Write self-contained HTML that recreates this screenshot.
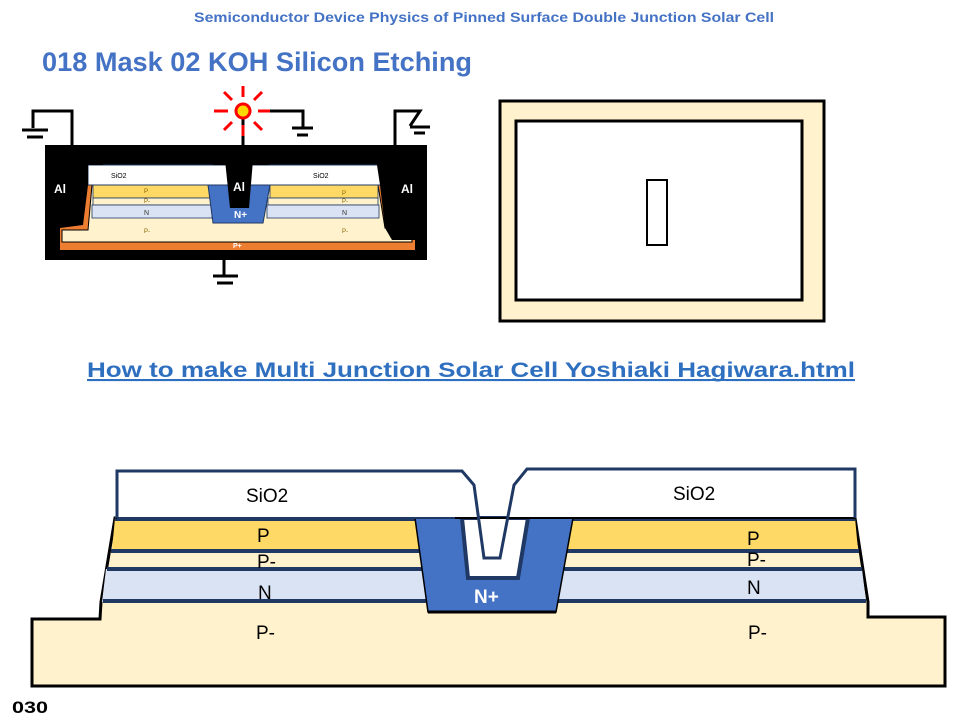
<!DOCTYPE html>
<html><head><meta charset="utf-8"><style>html,body{margin:0;padding:0;background:#fff}svg{display:block}</style></head>
<body>
<svg width="960" height="720" viewBox="0 0 960 720" xmlns="http://www.w3.org/2000/svg" font-family="Liberation Sans, sans-serif">
<text x="194" y="22" font-size="14" font-weight="bold" fill="#4472c4" textLength="580" lengthAdjust="spacingAndGlyphs">Semiconductor Device Physics of Pinned Surface Double Junction Solar Cell</text>
<text x="42" y="71" font-size="27" font-weight="bold" fill="#4472c4" textLength="430" lengthAdjust="spacingAndGlyphs">018 Mask 02 KOH Silicon Etching</text>
<text x="87" y="377" font-size="21" font-weight="bold" fill="#2e6fc0" textLength="768" lengthAdjust="spacingAndGlyphs" text-decoration="underline">How to make Multi Junction Solar Cell Yoshiaki Hagiwara.html</text>
<line x1="87" y1="380" x2="855" y2="380" stroke="#2e6fc0" stroke-width="2"/>
<text x="12" y="713" font-size="17" font-weight="bold" fill="#000" textLength="36" lengthAdjust="spacingAndGlyphs">030</text>

<!-- Top-left small diagram -->
<g>
<rect x="45" y="145" width="382" height="115" fill="#000"/>
<rect x="60" y="185" width="355" height="65" fill="#ed7d31"/>
<polygon points="90,185 93,185 93,218 378,218 378,185 382,185 392,240 60,240 60,228 85,228" fill="#ed7d31"/>
<polygon points="92,185 210,185 213,218 263,218 270,185 378,185 385,228 412,230 412,242 62,242 62,230 88,230" fill="#fff2cc" stroke="#000" stroke-width="1"/>
<rect x="93" y="185" width="117" height="13" fill="#ffd966" stroke="#1f3864" stroke-width="0.8"/>
<rect x="270" y="185" width="108" height="13" fill="#ffd966" stroke="#1f3864" stroke-width="0.8"/>
<rect x="93" y="198" width="118" height="7" fill="#fff2cc" stroke="#1f3864" stroke-width="0.8"/>
<rect x="268" y="198" width="110" height="7" fill="#fff2cc" stroke="#1f3864" stroke-width="0.8"/>
<rect x="92" y="205" width="120" height="13" fill="#dae3f3" stroke="#1f3864" stroke-width="0.8"/>
<rect x="267" y="205" width="112" height="13" fill="#dae3f3" stroke="#1f3864" stroke-width="0.8"/>
<polygon points="208,185 270,185 263,223 213,223" fill="#4472c4" stroke="#1f3864" stroke-width="1"/>
<rect x="88" y="165" width="299" height="20" fill="#fff" stroke="#1f3864" stroke-width="1"/>
<rect x="45" y="149" width="58" height="16" fill="#000"/>
<rect x="213" y="149" width="56" height="16" fill="#000"/>
<polygon points="225,160 253,160 249,208 230,208" fill="#000"/>
<rect x="377" y="145" width="50" height="20" fill="#000"/>
<polygon points="377,165 427,165 427,240 392,240 385,228 380,185" fill="#000"/>
<polygon points="45,165 88,165 88,185 83,225 60,228 45,228" fill="#000"/>
<text x="111" y="178" font-size="7" fill="#000">SiO2</text>
<text x="313" y="178" font-size="7" fill="#000">SiO2</text>
<text x="144" y="193" font-size="6" fill="#7f6000">P</text>
<text x="342" y="195" font-size="6" fill="#7f6000">P</text>
<text x="144" y="203" font-size="6" fill="#7f6000">P-</text>
<text x="342" y="203" font-size="6" fill="#7f6000">P-</text>
<text x="144" y="215" font-size="7" fill="#333">N</text>
<text x="342" y="215" font-size="7" fill="#333">N</text>
<text x="144" y="233" font-size="6" fill="#7f6000">P-</text>
<text x="342" y="233" font-size="6" fill="#7f6000">P-</text>
<text x="234" y="218" font-size="10" font-weight="bold" fill="#fff">N+</text>
<text x="233" y="248" font-size="7" font-weight="bold" fill="#fff">P+</text>
<text x="54" y="193" font-size="12" font-weight="bold" fill="#fff">Al</text>
<text x="233" y="191" font-size="12" font-weight="bold" fill="#fff">Al</text>
<text x="401" y="193" font-size="12" font-weight="bold" fill="#fff">Al</text>
<!-- grounds -->
<g stroke="#000" stroke-width="3" fill="none">
<polyline points="72,145 72,111 33,111 33,128"/>
<line x1="22" y1="130" x2="48" y2="130"/><line x1="27" y1="137" x2="43" y2="137"/>
<line x1="243" y1="118" x2="243" y2="149"/>
<polyline points="270,111 303,111 303,127"/>
<line x1="292" y1="128" x2="313" y2="128"/><line x1="297" y1="135" x2="308" y2="135"/>
<polyline points="395,145 395,111 420,111 410,126"/>
<line x1="410" y1="127" x2="430" y2="127"/><line x1="414" y1="133" x2="425" y2="133"/>
<line x1="224" y1="260" x2="224" y2="276"/>
<line x1="213" y1="276" x2="238" y2="276"/><line x1="217" y1="283" x2="233" y2="283"/>
</g>
<!-- sun -->
<g stroke="#ff0000" stroke-width="3">
<line x1="243" y1="86" x2="243" y2="97"/><line x1="243" y1="125" x2="243" y2="136"/>
<line x1="214" y1="111" x2="228" y2="111"/><line x1="258" y1="111" x2="270" y2="111"/>
<line x1="224" y1="92" x2="232" y2="100"/><line x1="254" y1="122" x2="262" y2="130"/>
<line x1="262" y1="92" x2="254" y2="100"/><line x1="232" y1="122" x2="224" y2="130"/>
</g>
<circle cx="243" cy="111" r="7" fill="#ffd700" stroke="#ff0000" stroke-width="3"/>
</g>

<!-- Top-right mask -->
<rect x="500" y="101" width="324" height="220" fill="#fff2cc" stroke="#000" stroke-width="3"/>
<rect x="516" y="121" width="286" height="179" fill="#fff" stroke="#000" stroke-width="3"/>
<rect x="647" y="180" width="20" height="65" fill="#fff" stroke="#000" stroke-width="2"/>

<!-- Bottom cross-section -->
<polygon points="115,518 101,602 100,619 32,619 32,686 945,686 945,617 868,617 868,602 855,518" fill="#fff2cc" stroke="#000" stroke-width="3"/>
<polygon points="115,518 855,518 858,550 112,550" fill="#ffd966"/>
<polygon points="106,569 862,569 866,602 102,602" fill="#dae3f3"/>
<g stroke="#1f3864" stroke-width="4">
<line x1="115" y1="519" x2="855" y2="519"/>
<line x1="111" y1="551" x2="859" y2="551"/>
<line x1="107" y1="569" x2="862" y2="569"/>
<line x1="103" y1="601" x2="866" y2="601"/>
</g>
<polygon points="415,518 462,518 468,578 518,578 528,518 573,518 556,612 428,612" fill="#4472c4" stroke="#000" stroke-width="1.5"/>
<line x1="428" y1="612" x2="556" y2="612" stroke="#000" stroke-width="3"/>
<polygon points="462,518 468,578 518,578 528,518" fill="#fff" stroke="#1f3864" stroke-width="4"/>
<polygon points="117,471 462,471 474,485 484,558 500,558 514,485 527,469 855,469 855,518 117,518" fill="#fff" stroke="#000" stroke-width="2"/>
<polyline points="117,518 117,471 462,471 474,485 484,558 500,558 514,485 527,469 855,469 855,518" fill="none" stroke="#1f3864" stroke-width="3"/>
<line x1="117" y1="518" x2="455" y2="518" stroke="#1f3864" stroke-width="2"/>
<g font-size="19" fill="#000">
<text x="246" y="502">SiO2</text>
<text x="673" y="500">SiO2</text>
<text x="257" y="542">P</text>
<text x="747" y="545">P</text>
<text x="257" y="568">P-</text>
<text x="747" y="566">P-</text>
<text x="258" y="599">N</text>
<text x="747" y="594">N</text>
<text x="256" y="639">P-</text>
<text x="748" y="639">P-</text>
</g>
<text x="474" y="603" font-size="19" font-weight="bold" fill="#fff">N+</text>
</svg>
</body></html>
